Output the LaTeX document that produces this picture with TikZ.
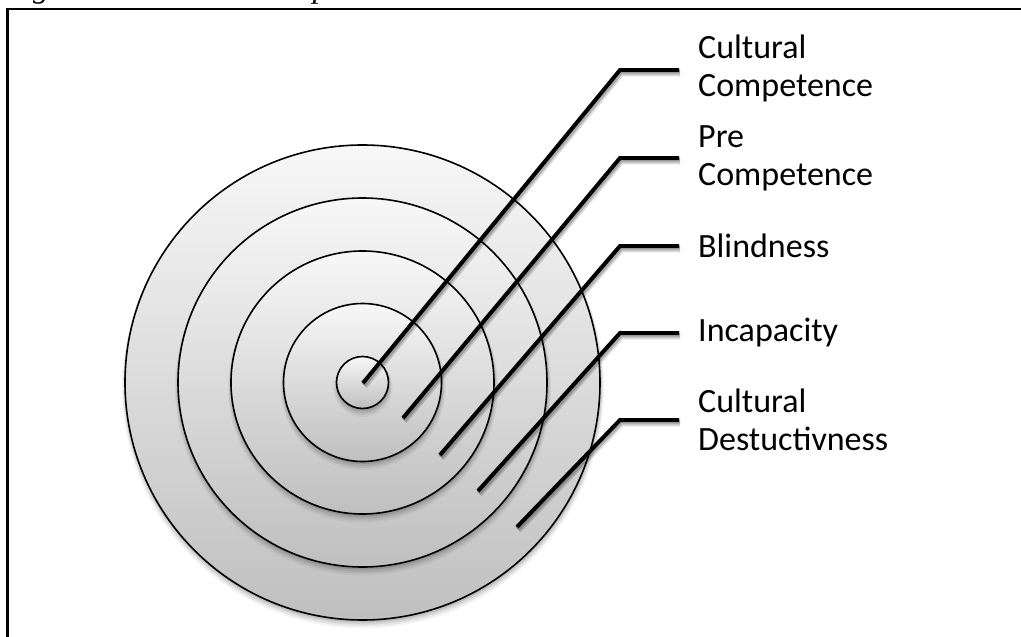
\documentclass[tikz,border=0pt]{standalone}
\usepackage{fontspec}
\setmainfont{Carlito}
\newfontfamily\capfont{Liberation Serif}
\begin{document}
\begin{tikzpicture}[x=1pt,y=-1pt,
  ring/.style={circle, draw=black, line width=1.6pt, inner sep=0pt,
    top color=white!97!black, bottom color=black!25},
  leader/.style={line width=4pt, line join=miter,
    preaction={draw=black, opacity=0.15, line width=7pt,
      transform canvas={shift={(1.2pt,-2.8pt)}}},
    preaction={draw=black, opacity=0.2, line width=4.5pt,
      transform canvas={shift={(1pt,-2.2pt)}}}},
  lbl/.style={anchor=west, align=left, inner sep=0pt,
    font=\fontsize{34}{38}\selectfont},
  frame/.style={line width=2.5pt}]
\useasboundingbox (0,0) rectangle (1021,637);
\fill[white] (0,0) rectangle (1021,637);

% soft drop shadow under a ring of radius #1
\def\ringshade#1{%
  \fill[black, opacity=0.10] ([xshift=0.5pt,yshift=-2pt]c) circle ({#1+0.5});
  \fill[black, opacity=0.08] ([xshift=0.5pt,yshift=-3pt]c) circle ({#1+1.5});
  \fill[black, opacity=0.06] ([xshift=0.5pt,yshift=-4pt]c) circle ({#1+2.5});
  \fill[black, opacity=0.04] ([xshift=0.5pt,yshift=-5pt]c) circle ({#1+3.5});}

% caption above the frame
\node[anchor=base west, inner sep=0pt,
  font=\capfont\itshape\fontsize{32}{36}\selectfont] (caption) at (4.5,-2)
  {Figure 1: Cultural Competence};

% frame
\draw[frame] (7.5,700) -- (7.5,9) -- (1100,9);

% concentric rings, outermost first
\coordinate (c) at (362.5,382.5);
\ringshade{237.5}
\node[ring, minimum size=475pt] (rCD) at (c) {};
\ringshade{184.5}
\node[ring, minimum size=369pt] (rI)  at (c) {};
\ringshade{131.5}
\node[ring, minimum size=263pt] (rB)  at (c) {};
\ringshade{79}
\node[ring, minimum size=158pt] (rPC) at (c) {};
\ringshade{26}
\node[ring, minimum size=52pt]  (rCC) at (c) {};

% labels
\node[lbl] (lCC) at (698,68)  {Cultural\\Competence};
\node[lbl] (lPC) at (698,158) {Pre\\Competence};
\node[lbl] (lB)  at (698,246) {Blindness};
\node[lbl] (lI)  at (698,333) {Incapacity};
\node[lbl] (lCD) at (698,420) {Cultural\\Destuctivness};

% leader ends and bends
\coordinate (eCC) at (363,383); \coordinate (kCC) at (620,70);
\coordinate (ePC) at (403,418); \coordinate (kPC) at (620,158);
\coordinate (eB)  at (440,455); \coordinate (kB)  at (620,246);
\coordinate (eI)  at (478,491); \coordinate (kI)  at (620,333);
\coordinate (eCD) at (517,527); \coordinate (kCD) at (620,420);

\draw[leader] (eCC) -- (kCC) -- ([xshift=-19pt]kCC -| lCC.west);
\draw[leader] (ePC) -- (kPC) -- ([xshift=-19pt]lPC.west);
\draw[leader] (eB)  -- (kB)  -- ([xshift=-19pt]lB.west);
\draw[leader] (eI)  -- (kI)  -- ([xshift=-19pt]lI.west);
\draw[leader] (eCD) -- (kCD) -- ([xshift=-19pt]lCD.west);
\end{tikzpicture}
\end{document}
